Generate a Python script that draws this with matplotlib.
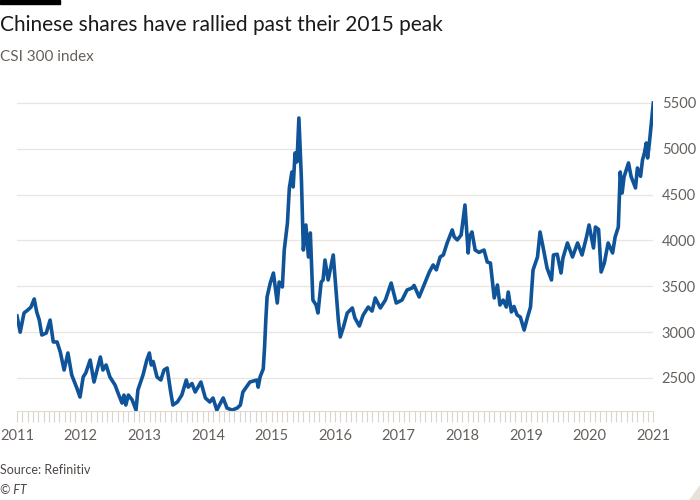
import matplotlib
matplotlib.use("Agg")
import matplotlib.pyplot as plt
from matplotlib.patches import Rectangle, Polygon
from matplotlib.ticker import MultipleLocator

plt.rcParams['font.family'] = ['Lato', 'DejaVu Sans']

# CSI 300 index (decimal years)
dates = [2011.00, 2011.05, 2011.11, 2011.17, 2011.22, 2011.27, 2011.31, 2011.35,
         2011.39, 2011.46, 2011.52, 2011.57, 2011.63, 2011.68, 2011.74, 2011.80,
         2011.86, 2011.94, 2011.99, 2012.04, 2012.08, 2012.15, 2012.21, 2012.31,
         2012.35, 2012.40, 2012.46, 2012.54, 2012.60, 2012.65, 2012.68, 2012.71,
         2012.75, 2012.81, 2012.87, 2012.90, 2012.98, 2013.04, 2013.08, 2013.11,
         2013.14, 2013.20, 2013.26, 2013.31, 2013.36, 2013.41, 2013.45, 2013.52,
         2013.59, 2013.66, 2013.69, 2013.75, 2013.80, 2013.89, 2013.96, 2014.03,
         2014.08, 2014.14, 2014.24, 2014.30, 2014.38, 2014.46, 2014.51, 2014.55,
         2014.66, 2014.77, 2014.79, 2014.82, 2014.87, 2014.89, 2014.91, 2014.93,
         2014.98, 2015.03, 2015.09, 2015.12, 2015.17, 2015.20, 2015.25, 2015.28,
         2015.32, 2015.34, 2015.37, 2015.40, 2015.43, 2015.47, 2015.50, 2015.54,
         2015.58, 2015.61, 2015.65, 2015.70, 2015.73, 2015.78, 2015.81, 2015.84,
         2015.89, 2015.97, 2016.05, 2016.08, 2016.13, 2016.19, 2016.27, 2016.31,
         2016.38, 2016.44, 2016.52, 2016.58, 2016.63, 2016.71, 2016.79, 2016.88,
         2016.96, 2017.05, 2017.13, 2017.21, 2017.24, 2017.32, 2017.40, 2017.48,
         2017.54, 2017.59, 2017.65, 2017.70, 2017.76, 2017.84, 2017.87, 2017.92,
         2017.98, 2018.04, 2018.09, 2018.11, 2018.15, 2018.20, 2018.26, 2018.34,
         2018.39, 2018.44, 2018.50, 2018.55, 2018.59, 2018.64, 2018.69, 2018.72,
         2018.77, 2018.81, 2018.86, 2018.91, 2018.97, 2019.02, 2019.07, 2019.11,
         2019.18, 2019.22, 2019.27, 2019.33, 2019.40, 2019.43, 2019.49, 2019.55,
         2019.58, 2019.65, 2019.73, 2019.81, 2019.88, 2019.95, 2019.99, 2020.06,
         2020.09, 2020.14, 2020.18, 2020.23, 2020.29, 2020.36, 2020.40, 2020.45,
         2020.48, 2020.51, 2020.54, 2020.61, 2020.65, 2020.72, 2020.75, 2020.80,
         2020.83, 2020.86, 2020.89, 2020.91, 2020.94, 2021.00]
csi300 = [3176, 3000, 3209, 3242, 3274, 3362, 3220, 3132,
          2969, 2991, 3132, 2893, 2893, 2783, 2587, 2773,
          2532, 2391, 2292, 2511, 2554, 2696, 2456, 2729,
          2587, 2642, 2511, 2424, 2314, 2227, 2314, 2205,
          2314, 2260, 2150, 2369, 2532, 2696, 2773, 2642,
          2680, 2511, 2478, 2587, 2609, 2369, 2205, 2238,
          2314, 2478, 2400, 2440, 2347, 2456, 2282, 2238,
          2282, 2150, 2282, 2172, 2150, 2172, 2205, 2347,
          2456, 2478, 2400, 2511, 2600, 2827, 3133, 3384,
          3536, 3645, 3318, 3547, 3493, 3896, 4191, 4573,
          4747, 4584, 4955, 4857, 5336, 4660, 3896, 4169,
          3820, 4082, 3351, 3296, 3209, 3547, 3569, 3787,
          3569, 3842, 3133, 2947, 3056, 3209, 3264, 3155,
          3067, 3187, 3274, 3230, 3373, 3264, 3351, 3536,
          3318, 3350, 3460, 3482, 3510, 3384, 3520, 3656,
          3733, 3680, 3820, 3842, 3973, 4115, 4040, 4006,
          4060, 4387, 3864, 4038, 4093, 3896, 3870, 3896,
          3765, 3754, 3373, 3515, 3296, 3350, 3274, 3438,
          3220, 3280, 3187, 3165, 3023, 3155, 3274, 3678,
          3820, 4093, 3918, 3700, 3569, 3842, 3850, 3645,
          3809, 3973, 3820, 3973, 3842, 4038, 4169, 3918,
          4147, 4120, 3656, 3754, 3973, 3864, 4038, 4147,
          4747, 4518, 4693, 4846, 4700, 4573, 4791, 4700,
          4878, 4955, 5064, 4900, 5075, 5500]

years = list(range(2011, 2022))
yticks = [2500, 3000, 3500, 4000, 4500, 5000, 5500]

fig = plt.figure(figsize=(7, 5), dpi=100)
ax = fig.add_axes([0.0243, 0.178, 0.909, 0.632])

ax.plot(dates, csi300, color='#0f5499', lw=2.6, solid_joinstyle='round', zorder=3)

ax.set_xlim(2011, 2021)
ax.set_ylim(2140, 5587)
ax.set_yticks(yticks)
ax.set_yticklabels([str(v) for v in yticks])
ax.set_xticks(years)
ax.set_xticklabels([str(y) for y in years])
ax.xaxis.set_minor_locator(MultipleLocator(1 / 12))

ax.yaxis.tick_right()
ax.grid(axis='y', color='#ebe5df', lw=0.9)
ax.set_axisbelow(True)
for s in ['top', 'left', 'right']:
    ax.spines[s].set_visible(False)
ax.spines['bottom'].set_color('#e2dbd5')
ax.tick_params(axis='y', length=0, pad=6, labelsize=10.5, labelcolor='#66605c')
ax.tick_params(axis='x', which='both', length=8, width=0.8, color='#dcd3cc',
               direction='out', pad=5, labelsize=10.5, labelcolor='#66605c')

fig.patches.append(Rectangle((0, 1 - 4 / 500), 60 / 700, 4 / 500,
                             transform=fig.transFigure, color='black'))
fig.text(0.0, 0.95, "Chinese shares have rallied past their 2015 peak",
         fontsize=15, color='#1a1a1a', va='center', ha='left')
fig.text(0.0, 0.886, "CSI 300 index", fontsize=11, color='#66605c',
         va='center', ha='left')
fig.text(0.0, 0.06, "Source: Refinitiv", fontsize=9, color='#4d4845',
         va='center', ha='left')
fig.text(0.0, 0.02, "© FT", fontsize=9, color='#4d4845', style='italic',
         va='center', ha='left')
fig.patches.append(Polygon([(1, 0), (1, 14 / 500), (1 - 10 / 700, 0)], closed=True,
                           transform=fig.transFigure, color='#e8e1da'))

plt.savefig("out.png", dpi=100)
